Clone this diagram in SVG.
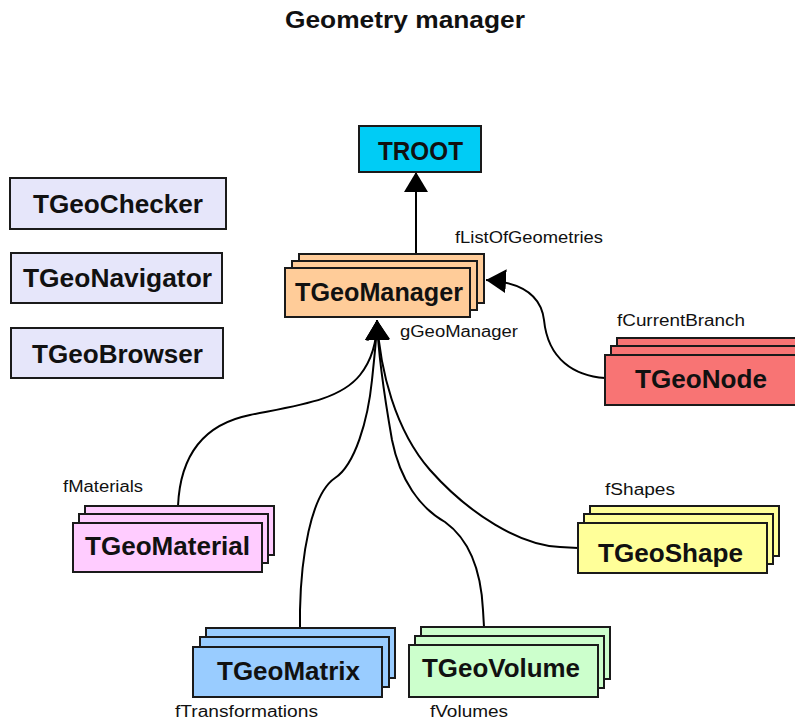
<svg xmlns="http://www.w3.org/2000/svg" width="795" height="722" viewBox="0 0 795 722">
<defs>
<style>
.box{stroke:#1a1a1a;stroke-width:2}
.nt{font-family:"Liberation Sans",Arial,sans-serif;font-weight:bold;font-size:26px;fill:#111;lengthAdjust:spacingAndGlyphs}
.lb{font-family:"Liberation Sans",Arial,sans-serif;font-size:16px;fill:#111}
.title{font-family:"Liberation Sans",Arial,sans-serif;font-weight:bold;font-size:24px;fill:#111}
.con{fill:none;stroke:#000;stroke-width:2}
.lav{fill:#E6E6FA}
.cyan{fill:#00CCF5}
.org{fill:#FFCC99}
.red{fill:#F87474}
.pink{fill:#FFCCFF}
.yel{fill:#FFFF99}
.blu{fill:#99CCFF}
.grn{fill:#CCFFCC}
</style>
<marker id="arr" markerUnits="userSpaceOnUse" markerWidth="20" markerHeight="24" viewBox="0 0 20 24" refX="20" refY="12" orient="auto">
<path d="M0,0 L20,12 L0,24 z" fill="#000"/>
</marker>
</defs>
<rect width="795" height="722" fill="#fff"/>
<text class="title" x="285" y="28" textLength="240" lengthAdjust="spacingAndGlyphs">Geometry manager</text>

<g id="connectors">
<path class="con" d="M416,254 L416,172" marker-end="url(#arr)"/>
<path class="con" d="M605,378 C575,376 548,360 544,320 C541,295 520,282 486,280" marker-end="url(#arr)"/>
<path class="con" d="M178,506 C180,460 200,425 250,415 C300,405 340,400 360,375 C372,360 377,340 377,320" marker-end="url(#arr)"/>
<path class="con" d="M300,628 L300,610 C301,560 310,495 335,478 C355,465 368,420 372,380 C375,350 377,335 377,320" marker-end="url(#arr)"/>
<path class="con" d="M484,627 L483,610 C481,570 470,540 445,522 C420,508 400,480 392,440 C385,400 378,350 377,320" marker-end="url(#arr)"/>
<path class="con" d="M578,548 L560,547 C520,545 470,515 430,470 C395,430 380,370 377,320" marker-end="url(#arr)"/>
</g>

<g id="TGeoChecker">
<rect class="box lav" x="10" y="178" width="216" height="51"/>
<text class="nt" x="33" y="213" textLength="170" lengthAdjust="spacingAndGlyphs">TGeoChecker</text>
</g>
<g id="TGeoNavigator">
<rect class="box lav" x="11" y="253" width="211" height="50"/>
<text class="nt" x="23" y="287" textLength="189" lengthAdjust="spacingAndGlyphs">TGeoNavigator</text>
</g>
<g id="TGeoBrowser">
<rect class="box lav" x="11" y="328" width="212" height="50"/>
<text class="nt" x="32" y="363" textLength="171" lengthAdjust="spacingAndGlyphs">TGeoBrowser</text>
</g>

<g id="TROOT">
<rect class="box cyan" x="359" y="126" width="122" height="46"/>
<text class="nt" x="378" y="160" textLength="85" lengthAdjust="spacingAndGlyphs">TROOT</text>
</g>

<g id="TGeoManager">
<rect class="box org" x="299" y="254" width="185" height="49"/>
<rect class="box org" x="292" y="261" width="185" height="49"/>
<rect class="box org" x="285" y="268" width="185" height="49"/>
<text class="nt" x="295" y="301" textLength="168" lengthAdjust="spacingAndGlyphs">TGeoManager</text>
<text class="lb" x="455" y="243" textLength="148" lengthAdjust="spacingAndGlyphs">fListOfGeometries</text>
<text class="lb" x="400" y="337" textLength="118" lengthAdjust="spacingAndGlyphs">gGeoManager</text>
</g>

<g id="TGeoNode">
<rect class="box red" x="617" y="338" width="200" height="50"/>
<rect class="box red" x="611" y="346" width="200" height="50"/>
<rect class="box red" x="605" y="355" width="200" height="50"/>
<text class="nt" x="635" y="388" textLength="132" lengthAdjust="spacingAndGlyphs">TGeoNode</text>
<text class="lb" x="617" y="326" textLength="128" lengthAdjust="spacingAndGlyphs">fCurrentBranch</text>
</g>

<g id="TGeoMaterial">
<rect class="box pink" x="85" y="506" width="189" height="49"/>
<rect class="box pink" x="79" y="514" width="189" height="49"/>
<rect class="box pink" x="73" y="523" width="189" height="49"/>
<text class="nt" x="85" y="555" textLength="165" lengthAdjust="spacingAndGlyphs">TGeoMaterial</text>
<text class="lb" x="63" y="492" textLength="80" lengthAdjust="spacingAndGlyphs">fMaterials</text>
</g>

<g id="TGeoShape">
<rect class="box yel" x="590" y="506" width="189" height="50"/>
<rect class="box yel" x="584" y="514" width="189" height="50"/>
<rect class="box yel" x="578" y="523" width="189" height="50"/>
<text class="nt" x="598" y="562" textLength="145" lengthAdjust="spacingAndGlyphs">TGeoShape</text>
<text class="lb" x="605" y="495" textLength="70" lengthAdjust="spacingAndGlyphs">fShapes</text>
</g>

<g id="TGeoMatrix">
<rect class="box blu" x="206" y="628" width="189" height="50"/>
<rect class="box blu" x="200" y="637" width="189" height="50"/>
<rect class="box blu" x="193" y="647" width="189" height="50"/>
<text class="nt" x="217" y="680" textLength="143" lengthAdjust="spacingAndGlyphs">TGeoMatrix</text>
<text class="lb" x="175" y="717" textLength="143" lengthAdjust="spacingAndGlyphs">fTransformations</text>
</g>

<g id="TGeoVolume">
<rect class="box grn" x="421" y="627" width="189" height="52"/>
<rect class="box grn" x="415" y="636" width="189" height="52"/>
<rect class="box grn" x="409" y="645" width="189" height="52"/>
<text class="nt" x="422" y="677" textLength="158" lengthAdjust="spacingAndGlyphs">TGeoVolume</text>
<text class="lb" x="430" y="717" textLength="78" lengthAdjust="spacingAndGlyphs">fVolumes</text>
</g>
</svg>
